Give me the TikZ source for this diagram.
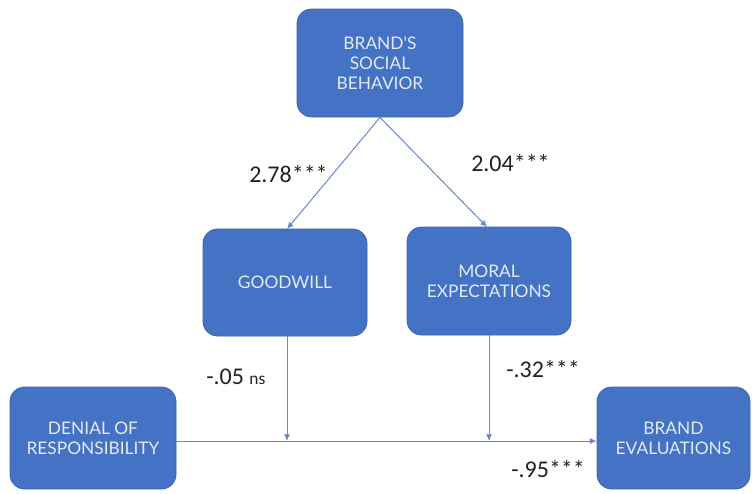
\documentclass[tikz,border=0pt]{standalone}
\usepackage{fontspec}
\setmainfont{Carlito}
\newfontfamily\boxfont{Lato}
\usetikzlibrary{arrows.meta}
\definecolor{boxblue}{HTML}{4472C4}
\definecolor{boxedge}{HTML}{3B64AF}
\definecolor{boxtext}{HTML}{E4EAF6}
\definecolor{linkblue}{HTML}{6688C8}
\definecolor{labtext}{HTML}{222222}
\tikzset{
  varbox/.style={draw=boxedge, line width=0.6pt, fill=boxblue, rounded corners=11pt,
    text=boxtext, align=center, inner sep=0pt,
    font=\boxfont\fontsize{13}{15}\selectfont},
  link/.style={draw=linkblue, line width=0.75pt, -{Latex[length=5pt,width=4.5pt]}},
  coef/.style={text=labtext, inner sep=0pt, font=\fontsize{18}{20}\selectfont}
}
\begin{document}
\begin{tikzpicture}[x=0.75pt,y=-0.75pt]
\useasboundingbox (0,0) rectangle (752,493);
\node[varbox, minimum width=166*0.75pt, minimum height=108*0.75pt] (sb) at (380,63) {BRAND'S\\SOCIAL\\BEHAVIOR};
\node[varbox, minimum width=164*0.75pt, minimum height=107*0.75pt] (gw) at (285,282.5) {GOODWILL};
\node[varbox, minimum width=164*0.75pt, minimum height=108*0.75pt] (me) at (489,281) {MORAL\\EXPECTATIONS};
\node[varbox, minimum width=166*0.75pt, minimum height=102*0.75pt] (dr) at (93,438) {DENIAL OF\\RESPONSIBILITY};
\node[varbox, minimum width=153*0.75pt, minimum height=102*0.75pt] (be) at (673.5,438) {BRAND\\EVALUATIONS};
\coordinate (j1) at (287,441);
\coordinate (j2) at (489,441);
\coordinate (t1) at (287,229);
\coordinate (t2) at (487,227);
\draw[link] (sb.south) -- (t1);
\draw[link] (sb.south) -- (t2);
\draw[link] (gw.south -| j1) -- (j1);
\draw[link] (me.south -| j2) -- (j2);
\draw[link] (dr.east |- j1) -- (be.west |- j1);
\node[coef, anchor=west] (c1) at (249,174) {2.78***};
\node[coef, anchor=west] (c2) at (471,163) {2.04***};
\node[coef, anchor=west] (c3) at (206,377) {-.05 {\fontsize{13}{15}\selectfont ns}};
\node[coef, anchor=west] (c4) at (506,369) {-.32***};
\node[coef, anchor=west] (c5) at (511,469) {-.95***};
\end{tikzpicture}
\end{document}
